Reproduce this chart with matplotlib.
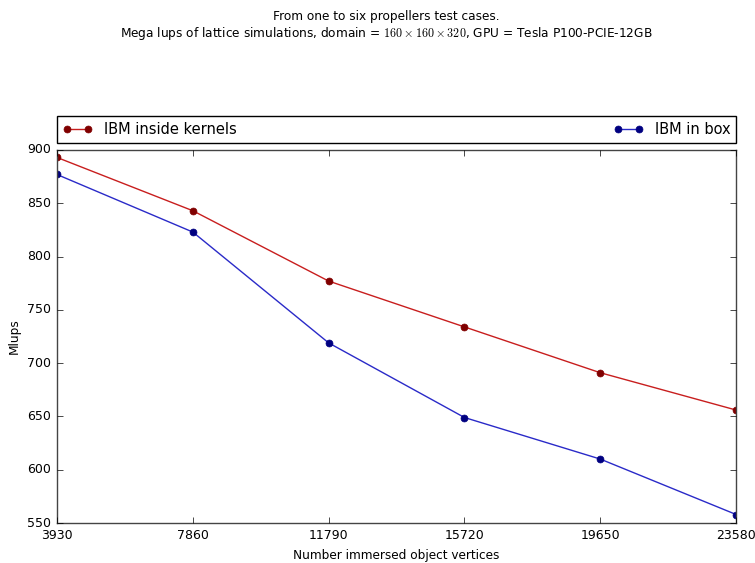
import matplotlib
matplotlib.use('Agg')
import matplotlib.pyplot as plt

plt.style.use('classic')

# data
vertices = [3930, 7860, 11790, 15720, 19650, 23580]
ibm_kernels = [893, 843, 777, 734, 691, 656]
ibm_box = [877, 823, 719, 649, 610, 558]

fig = plt.figure(figsize=(7.55, 5.63), dpi=100, facecolor='white')
ax = fig.add_axes([0.0755, 0.071, 0.8995, 0.6626])

ax.plot(vertices, ibm_kernels, '-o', color='#c81e1e', markerfacecolor='#800000',
        markeredgecolor='#800000', markersize=5, linewidth=1, label='IBM inside kernels')
ax.plot(vertices, ibm_box, '-o', color='#2a2ac8', markerfacecolor='#000080',
        markeredgecolor='#000080', markersize=5, linewidth=1, label='IBM in box')

ax.set_xlim(3930, 23580)
ax.set_ylim(550, 900)
ax.set_xticks(vertices)
ax.set_yticks(range(550, 901, 50))
ax.tick_params(labelsize=9)
ax.set_xlabel('Number immersed object vertices', fontsize=8.7)
ax.set_ylabel('Mlups', fontsize=8.7)
for s in ax.spines.values():
    s.set_color('#444444')

ax.legend(bbox_to_anchor=(0., 1.02, 1., .065), loc='lower left', ncol=2,
          mode='expand', borderaxespad=0., fontsize=10.5, numpoints=2)

fig.text(0.511, 0.983, 'From one to six propellers test cases.\n'
         'Mega lups of lattice simulations, domain = $160\\times160\\times320$, '
         'GPU = Tesla P100-PCIE-12GB', fontsize=8.7, ha='center', va='top',
         multialignment='center')

fig.savefig('out.png', dpi=100, facecolor='white')
